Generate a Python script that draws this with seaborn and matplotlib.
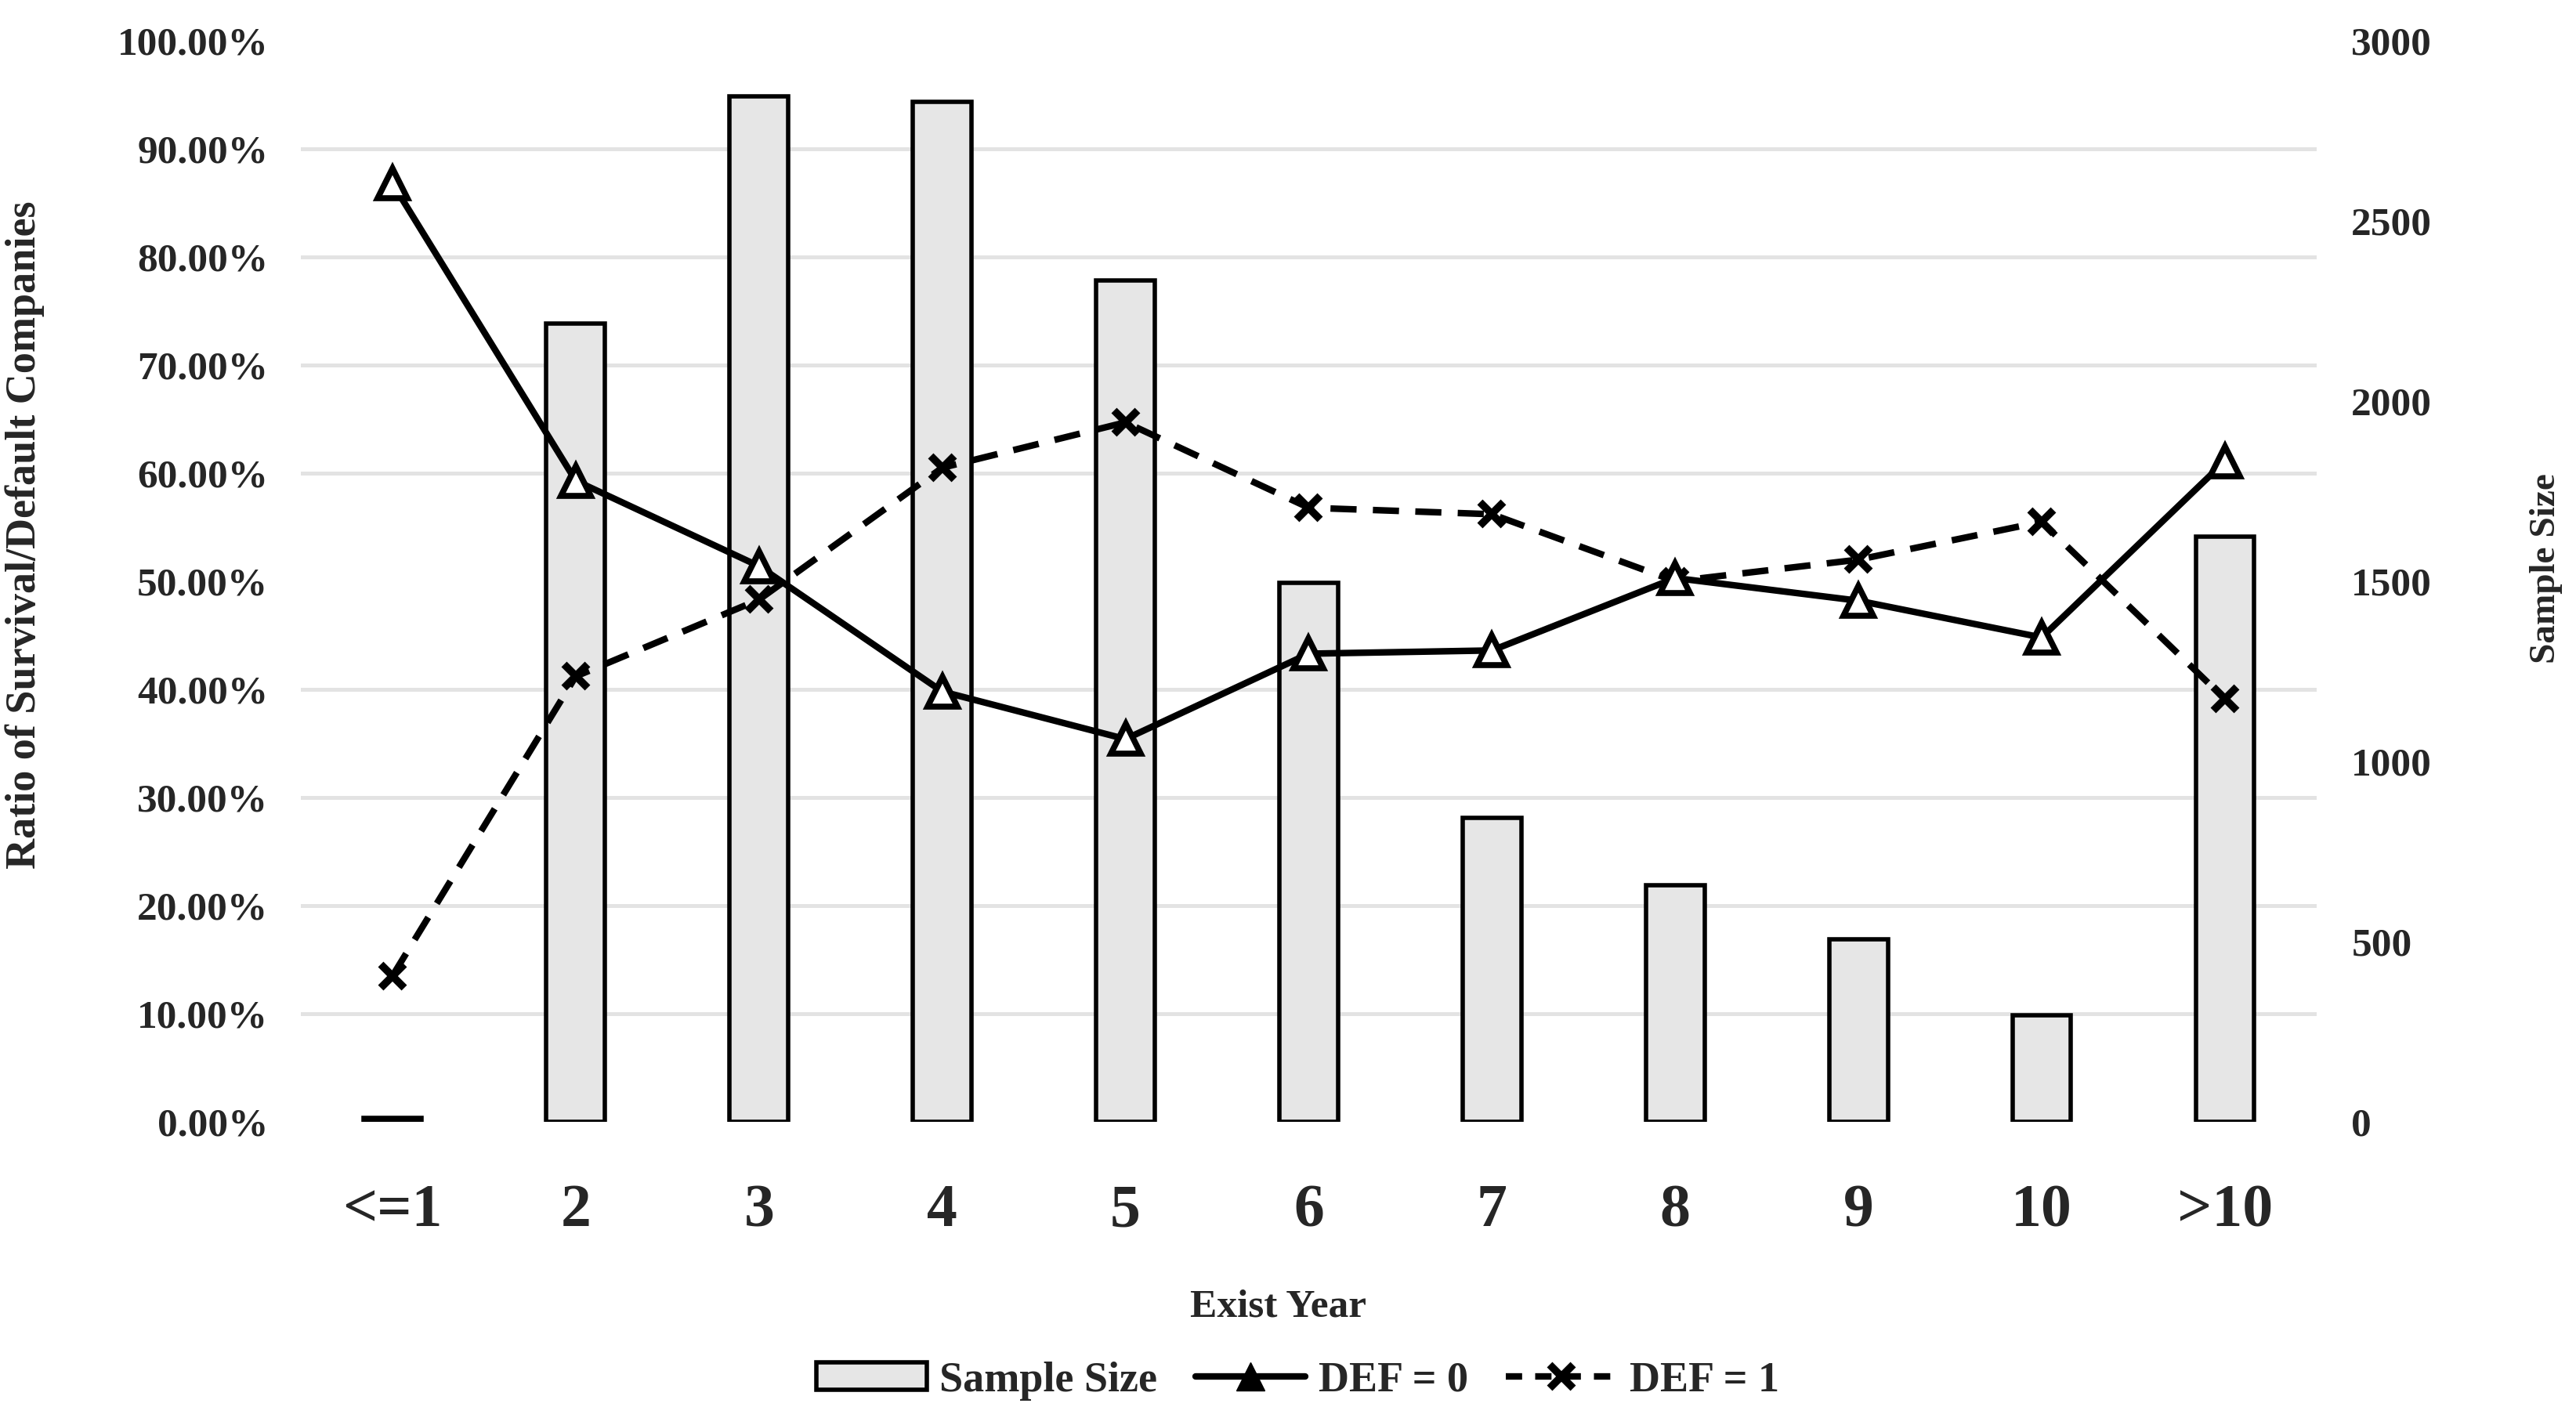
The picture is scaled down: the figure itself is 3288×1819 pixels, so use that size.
import matplotlib
matplotlib.use("Agg")
import matplotlib.pyplot as plt
import seaborn as sns
import numpy as np
import pandas as pd
from matplotlib.ticker import PercentFormatter, FixedLocator
from matplotlib.patches import Patch
from matplotlib.lines import Line2D

categories = ["<=1", "2", "3", "4", "5", "6", "7", "8", "9", "10", ">10"]
sample_size = [10, 2216, 2845, 2831, 2334, 1495, 843, 657, 506, 296, 1623]
def0 = [0.868, 0.593, 0.514, 0.398, 0.354, 0.433, 0.436, 0.503, 0.482, 0.448, 0.611]
def1 = [0.135, 0.412, 0.483, 0.605, 0.647, 0.568, 0.562, 0.500, 0.520, 0.555, 0.391]

df = pd.DataFrame({"year": categories, "n": sample_size, "def0": def0, "def1": def1})

sns.set_theme(style="white")
plt.rcParams["font.family"] = ["Liberation Serif", "DejaVu Serif"]
plt.rcParams["font.weight"] = "bold"

fig, ax = plt.subplots(figsize=(32.88, 18.19), dpi=100)
fig.subplots_adjust(left=0.1168, right=0.8993, top=0.9714, bottom=0.2128)
ax2 = ax.twinx()

bar_fc = "#e6e6e6"
sns.barplot(data=df, x="year", y="n", ax=ax2, color=bar_fc, saturation=1,
            edgecolor="black", linewidth=4.0, width=0.32)

sns.pointplot(data=df, x="year", y="def0", ax=ax, color="black", markers="^",
              linestyles="-")
sns.pointplot(data=df, x="year", y="def1", ax=ax, color="black", markers="x",
              linestyles="--")

lines = [l for l in ax.lines if len(l.get_xdata()) == len(categories)]
l0, l1 = lines[0], lines[1]
l0.set_linewidth(6.0)
l0.set_marker("^")
l0.set_markersize(27)
l0.set_markerfacecolor("white")
l0.set_markeredgecolor("black")
l0.set_markeredgewidth(5.5)
l0.set_zorder(4)
l1.set_linewidth(6.0)
l1.set_linestyle((0, (4, 2.5)))
l1.set_marker("x")
l1.set_markersize(21)
l1.set_markeredgewidth(7)
l1.set_markeredgecolor("black")
l1.set_zorder(3)

ax.set_zorder(ax2.get_zorder() + 1)
ax.patch.set_visible(False)

ax.set_xlim(-0.5, len(categories) - 0.5)
ax.set_ylim(0, 1)
ax.set_yticks(np.arange(0, 1.0001, 0.1))
ax.yaxis.set_major_formatter(PercentFormatter(1, decimals=2))
ax.grid(False)

ax2.set_ylim(0, 3000)
ax2.set_yticks(np.arange(0, 3001, 500))
ax2.yaxis.set_minor_locator(FixedLocator(np.arange(0, 3001, 300)))
ax2.set_axisbelow(True)
ax2.grid(False)
ax2.grid(which="minor", axis="y", color="#e3e3e3", linewidth=3.6)
ax2.tick_params(which="minor", length=0)

for a in (ax, ax2):
    for s in a.spines.values():
        s.set_visible(False)
    a.tick_params(length=0)

ax.tick_params(axis="y", labelsize=37, pad=30)
ax2.tick_params(axis="y", labelsize=37, pad=32)
ax.tick_params(axis="x", labelsize=56, pad=57)
for lab in ax.get_yticklabels() + ax2.get_yticklabels() + ax.get_xticklabels():
    lab.set_fontweight("bold")

ax.set_xlabel("Exist Year", fontsize=37, fontweight="bold")
ax.xaxis.set_label_coords(0.485, -0.155)
ax2.set_xlabel("")
ax.set_ylabel("Ratio of Survival/Default Companies", fontsize=39, fontweight="bold")
ax.yaxis.set_label_coords(-0.127, 0.543)
ax2.set_ylabel("Sample Size", fontsize=34, fontweight="bold", rotation=90)
ax2.yaxis.set_label_coords(1.1057, 0.512)

handles = [
    Patch(facecolor=bar_fc, edgecolor="black", linewidth=4.0),
    Line2D([], [], color="black", lw=6, marker="^", ms=26, mfc="black"),
    Line2D([], [], color="black", lw=6, ls=(0, (2.5, 2)), marker="x", ms=21, mew=7),
]
labels = ["Sample Size", "DEF = 0", "DEF = 1"]
fig.legend(handles, labels, loc="center", bbox_to_anchor=(0.5037, 0.031), ncol=3,
           frameon=False, fontsize=39, handlelength=2.6, handleheight=0.6,
           columnspacing=0.9, handletextpad=0.3)

fig.savefig("out.png", dpi=100)
